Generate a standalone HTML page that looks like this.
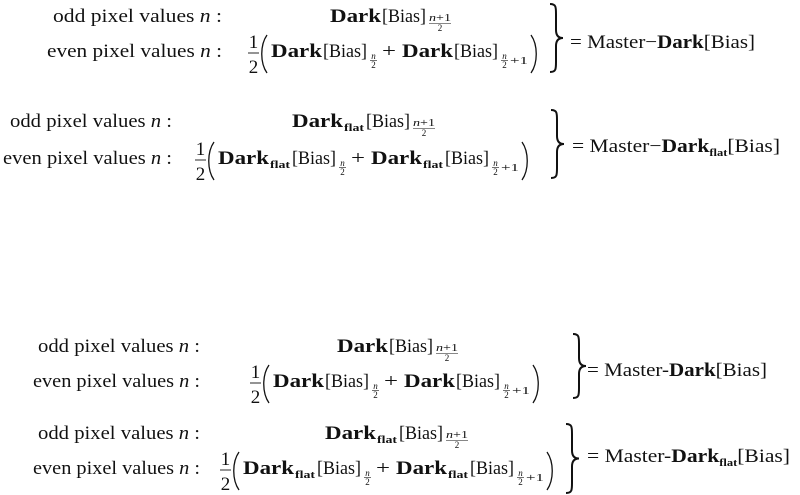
<!DOCTYPE html>
<html><head><meta charset="utf-8"><style>
html,body{margin:0;padding:0;background:#fff;width:800px;height:495px;overflow:hidden}
svg{display:block}
text{font-family:"Liberation Serif",serif;fill:#111}
</style></head><body>
<svg id="s" width="800" height="495" viewBox="0 0 800 495" xmlns="http://www.w3.org/2000/svg"></svg>
<script>
var o='';
function T(x,y,s,len,size,ex){o+='<text x="'+x+'" y="'+y+'" font-size="'+size+'"'+(len?' textLength="'+len+'" lengthAdjust="spacingAndGlyphs"':'')+(ex||'')+'>'+s+'</text>';}
function L(x1,y1,x2,y2,w){o+='<line x1="'+x1+'" y1="'+y1+'" x2="'+x2+'" y2="'+y2+'" stroke="#111" stroke-width="'+(w||0.8)+'"/>';}
function P(d,w){o+='<path d="'+d+'" fill="none" stroke="#111" stroke-width="'+w+'"/>';}
var N='<tspan font-style="italic">n</tspan>';
function label(x1,x2,b,word){T(x1,b,word+' pixel values '+N+' :',x2-x1,19);}
function dark(x,b,flat){T(x,b,'Dark',51,19,' font-weight="bold"');var e=x+51;if(flat){T(e+1,b+4,'flat',20,11,' font-weight="bold"');e+=22;}T(e+1,b,'[Bias]',44,19);return e+46;}
function subN1(x,b){T(x,b-1,N+'+1',22,10);L(x,b+1.5,x+22,b+1.5,0.6);T(x+11,b+9,'2',0,9,' text-anchor="middle"');}
function subN2(x,b){T(x+3.5,b+2,N,0,9,' text-anchor="middle"');L(x,b+3.5,x+7,b+3.5,0.6);T(x+3.5,b+11,'2',0,9,' text-anchor="middle"');}
function subN21(x,b){subN2(x,b);T(x+9,b+7,'+1',18,11);}
function half(x,b){T(x+5.5,b-9,'1',0,19,' text-anchor="middle"');L(x,b-4,x+11,b-4,0.9);T(x+5.5,b+16,'2',0,19,' text-anchor="middle"');}
function lp(x,b){P('M'+(x+6)+','+(b-22)+' C'+(x-1)+','+(b-12)+' '+(x-1)+','+(b+6)+' '+(x+6)+','+(b+16),1.3);}
function rp(x,b){P('M'+x+','+(b-22)+' C'+(x+7)+','+(b-12)+' '+(x+7)+','+(b+6)+' '+x+','+(b+16),1.3);}
function brace(x,y1,y2){var m=(y1+y2)/2;P('M'+x+','+y1+' C'+(x+6)+','+y1+' '+(x+6)+','+(y1+3)+' '+(x+6)+','+(y1+10)+' L'+(x+6)+','+(m-8)+' C'+(x+6)+','+(m-2)+' '+(x+9)+','+m+' '+(x+13)+','+m+' C'+(x+9)+','+m+' '+(x+6)+','+(m+2)+' '+(x+6)+','+(m+8)+' L'+(x+6)+','+(y2-10)+' C'+(x+6)+','+(y2-3)+' '+(x+6)+','+y2+' '+x+','+y2,2);}
function eq(x1,x2,b,dash,flat){T(x1,b,'= Master'+dash+'<tspan font-weight="bold">Dark</tspan>'+(flat?'<tspan font-weight="bold" font-size="11" dy="4">flat</tspan><tspan dy="-4">[Bias]</tspan>':'[Bias]'),x2-x1,19);}
function odd(x,b,flat){var e=dark(x,b,flat);subN1(e+2,b);}
function even(x,b,flat){half(x,b);lp(x+13,b);var e=dark(x+23,b,flat);subN2(e+2,b);T(e+14,b,'+',14,19);var e2=dark(e+34,b,flat);subN21(e2+2,b);rp(e2+32,b);}

/* Block 1 */
label(53,222,22,'odd'); odd(330,22,false);
label(47,222,57,'even'); even(248,57,false);
brace(550,4,72); eq(570,755,48,'−',false);

/* Block 2 */
label(10,172,127,'odd'); odd(292,127,true);
label(3,172,164,'even'); even(195,164,true);
brace(551,110,178); eq(572,780,152,'−',true);

/* Block 3 */
label(38,200,352,'odd'); odd(337,352,false);
label(33,200,387,'even'); even(250,387,false);
brace(573,334,398); eq(587,767,376,'-',false);

/* Block 4 */
label(38,200,439,'odd'); odd(325,439,true);
label(33,200,474,'even'); even(220,474,true);
brace(566,424,493); eq(587,790,462,'-',true);

document.getElementById('s').innerHTML=o;
</script>
</body></html>
